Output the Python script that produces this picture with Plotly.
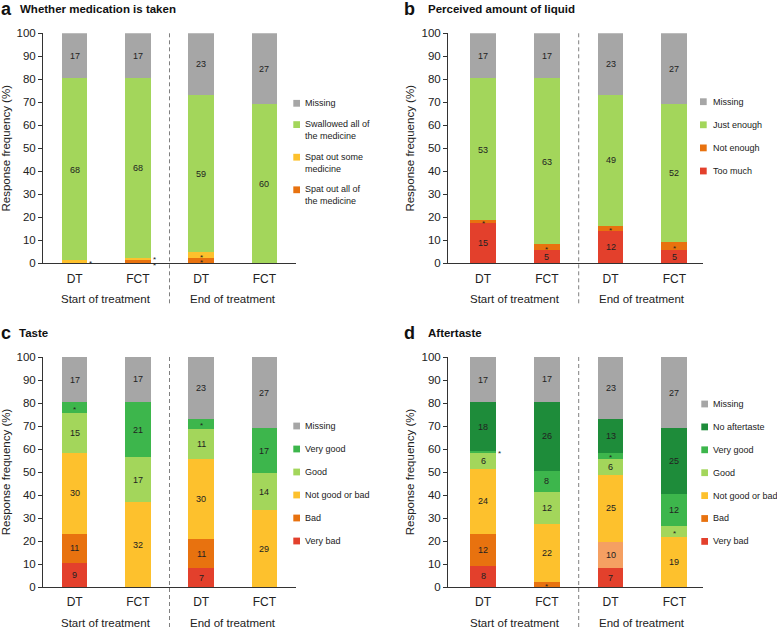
import plotly.graph_objects as go

W, H = 777, 628

# ---------------- data (counts per bar: DT start, FCT start, DT end, FCT end) ----------------
bar_labels = ["DT", "FCT", "DT", "FCT"]
periods = ["Start of treatment", "End of treatment"]

# a) Whether medication is taken
a_spat_all = [0, 1, 2, 0]
a_spat_some = [1, 1, 2, 0]
a_swallowed = [68, 68, 59, 60]
a_missing = [17, 17, 23, 27]

# b) Perceived amount of liquid
b_too_much = [15, 5, 12, 5]
b_not_enough = [1, 2, 2, 3]
b_just_enough = [53, 63, 49, 52]
b_missing = [17, 17, 23, 27]

# c) Taste
c_very_bad = [9, 0, 7, 0]
c_bad = [11, 0, 11, 0]
c_neutral = [30, 32, 30, 29]
c_good = [15, 17, 11, 14]
c_very_good = [4, 21, 4, 17]
c_missing = [17, 17, 23, 27]

# d) Aftertaste
d_very_bad = [8, 0, 7, 0]
d_bad = [12, 2, 10, 0]
d_neutral = [24, 22, 25, 19]
d_good = [6, 12, 6, 4]
d_very_good = [1, 8, 2, 12]
d_none = [18, 26, 13, 25]
d_missing = [17, 17, 23, 27]

# ---------------- styles ----------------
FONT = "Liberation Sans, Arial, Helvetica, sans-serif"
TXT = "#222222"
GRAY = "#a6a6a6"
LGREEN = "#a3d65b"
YELLOW = "#fdc12d"
ORANGE = "#e8720f"
LORANGE = "#f5a062"
RED = "#e3402c"
GREEN = "#3db64c"
DGREEN = "#1e8c3a"

def px_x(x):
    return x / W

def px_y(y):
    return 1 - y / H

panels = [
    dict(key="a", title="Whether medication is taken", ax="",
         xdom=(43, 296), xr=(-0.5, 3.5), ydom=(263.3, 33.3),
         series=[("Spat out all of<br>the medicine", a_spat_all, ORANGE),
                 ("Spat out some<br>medicine", a_spat_some, YELLOW),
                 ("Swallowed all of<br>the medicine", a_swallowed, LGREEN),
                 ("Missing", a_missing, GRAY)],
         title_y=8.5, letter_x=-1, text_x=18.3,
         leg_sq=293.3, leg_tx=302.7, leg_y0=103.3, leg_gap=10.0),
    dict(key="b", title="Perceived amount of liquid", ax="2",
         xdom=(448, 703), xr=(-0.55, 3.45), ydom=(263.3, 33.3),
         series=[("Too much", b_too_much, RED),
                 ("Not enough", b_not_enough, ORANGE),
                 ("Just enough", b_just_enough, LGREEN),
                 ("Missing", b_missing, GRAY)],
         title_y=8.5, letter_x=402, text_x=426.3,
         leg_sq=700, leg_tx=710.7, leg_y0=101.7, leg_gap=11.8),
    dict(key="c", title="Taste", ax="3",
         xdom=(43, 296), xr=(-0.5, 3.5), ydom=(587, 357),
         series=[("Very bad", c_very_bad, RED),
                 ("Bad", c_bad, ORANGE),
                 ("Not good or bad", c_neutral, YELLOW),
                 ("Good", c_good, LGREEN),
                 ("Very good", c_very_good, GREEN),
                 ("Missing", c_missing, GRAY)],
         title_y=332.5, letter_x=-1, text_x=17.3,
         leg_sq=293.3, leg_tx=303.3, leg_y0=426, leg_gap=11.7),
    dict(key="d", title="Aftertaste", ax="4",
         xdom=(448, 703), xr=(-0.55, 3.45), ydom=(587, 357),
         series=[("Very bad", d_very_bad, RED),
                 ("Bad", d_bad, [ORANGE, ORANGE, LORANGE, ORANGE]),
                 ("Not good or bad", d_neutral, YELLOW),
                 ("Good", d_good, LGREEN),
                 ("Very good", d_very_good, GREEN),
                 ("No aftertaste", d_none, DGREEN),
                 ("Missing", d_missing, GRAY)],
         title_y=332.5, letter_x=402, text_x=426,
         leg_sq=701.3, leg_tx=710.7, leg_y0=404, leg_gap=11.6),
]

# small-count markers drawn beside (not inside) the bar: (panel, bar, series) -> extra y shift
outside_marks = {("a", 0, 1): -2, ("a", 1, 0): -4, ("a", 1, 1): 0, ("d", 0, 4): -2}

BAR_W = 0.405
LEG_FONT = 9
LEG_LH = 11.3

fig = go.Figure()
annotations = []
shapes = []
layout_axes = {}

for p in panels:
    ax = p["ax"]
    xref = "x" + ax
    yref = "y" + ax
    series = p["series"]
    nbars = len(bar_labels)
    totals = [sum(s[1][i] for s in series) for i in range(nbars)]
    base = [0.0] * nbars

    for si, (name, counts, color) in enumerate(series):
        pct = [counts[i] / totals[i] * 100 for i in range(nbars)]
        fig.add_trace(go.Bar(
            x=list(range(nbars)), y=pct, width=BAR_W, name=name.replace("<br>", " "),
            marker=dict(color=color, line=dict(width=0)),
            xaxis=xref, yaxis=yref, showlegend=False,
            hovertemplate="%{y:.1f}%<extra>" + name.replace("<br>", " ") + "</extra>",
        ))
        for i in range(nbars):
            c = counts[i]
            if c == 0:
                continue
            mid = base[i] + pct[i] / 2
            if c >= 5:
                annotations.append(dict(
                    x=i, y=mid, xref=xref, yref=yref, text=str(c), showarrow=False,
                    font=dict(family=FONT, size=9, color=TXT), xanchor="center", yanchor="middle"))
            else:
                key = (p["key"], i, si)
                if key in outside_marks:
                    annotations.append(dict(
                        x=i + BAR_W / 2, y=mid, xref=xref, yref=yref, text="*", showarrow=False,
                        font=dict(family=FONT, size=8, color=TXT), xanchor="left", yanchor="middle",
                        xshift=0, yshift=outside_marks[key]))
                else:
                    annotations.append(dict(
                        x=i, y=mid, xref=xref, yref=yref, text="*", showarrow=False,
                        font=dict(family=FONT, size=8, color=TXT), xanchor="center", yanchor="middle",
                        yshift=-2))
        base = [base[i] + pct[i] for i in range(nbars)]

    # axes
    layout_axes["xaxis" + ax] = dict(
        domain=[px_x(p["xdom"][0]), px_x(p["xdom"][1])], range=list(p["xr"]),
        anchor=yref, tickmode="array", tickvals=list(range(nbars)), ticktext=bar_labels,
        showline=True, linecolor="#333333", linewidth=1, ticks="", showgrid=False,
        zeroline=False, tickfont=dict(family=FONT, size=12, color=TXT), ticklabelstandoff=4,
        automargin=False, fixedrange=True)
    layout_axes["yaxis" + ax] = dict(
        domain=[px_y(p["ydom"][0]), px_y(p["ydom"][1])], range=[0, 100], anchor=xref,
        dtick=10, ticks="outside", ticklen=4, tickcolor="#333333", showline=True,
        linecolor="#333333", linewidth=1, showgrid=False, zeroline=False,
        tickfont=dict(family=FONT, size=11.5, color=TXT),
        title=dict(text="Response frequency (%)", font=dict(family=FONT, size=11.5, color=TXT), standoff=4),
        automargin=False, fixedrange=True)

    # period labels under the categories
    axis_px = p["ydom"][0]
    for gi, period in enumerate(periods):
        annotations.append(dict(
            x=gi * 2 + 0.5, y=px_y(axis_px + 35.5), xref=xref, yref="paper", text=period,
            showarrow=False, font=dict(family=FONT, size=11.5, color=TXT),
            xanchor="center", yanchor="middle"))

    # dashed divider between start and end of treatment
    shapes.append(dict(
        type="line", xref=xref, yref="paper", x0=1.5, x1=1.5,
        y0=max(px_y(axis_px + 40), 0), y1=px_y(p["ydom"][1] - 1.5),
        line=dict(color="#808080", width=1, dash="4px,3px")))

    # panel title
    annotations.append(dict(
        x=px_x(p["letter_x"]), y=px_y(p["title_y"]), xref="paper", yref="paper",
        text="<b>" + p["key"] + "</b>", showarrow=False,
        font=dict(family=FONT, size=18, color="#111111"), xanchor="left", yanchor="middle"))
    annotations.append(dict(
        x=px_x(p["text_x"]), y=px_y(p["title_y"] + 0.5), xref="paper", yref="paper",
        text="<b>" + p["title"] + "</b>", showarrow=False,
        font=dict(family=FONT, size=11.5, color="#111111"), xanchor="left", yanchor="middle"))

    # legend (top item = top of stack)
    ly = p["leg_y0"]
    for name, counts, color in reversed(series):
        sw = color if isinstance(color, str) else color[0]
        nlines = name.count("<br>") + 1
        shapes.append(dict(
            type="rect", xref="paper", yref="paper",
            x0=px_x(p["leg_sq"]), x1=px_x(p["leg_sq"] + 6.7),
            y0=px_y(ly + 3.4), y1=px_y(ly - 3.4),
            fillcolor=sw, line=dict(width=0)))
        annotations.append(dict(
            x=px_x(p["leg_tx"]), y=px_y(ly + (nlines - 1) * LEG_LH / 2), xref="paper", yref="paper",
            text=name, showarrow=False, align="left",
            font=dict(family=FONT, size=LEG_FONT, color=TXT), xanchor="left", yanchor="middle"))
        ly += nlines * LEG_LH + p["leg_gap"]

fig.update_layout(
    width=W, height=H, margin=dict(l=0, r=0, t=0, b=0),
    paper_bgcolor="white", plot_bgcolor="white",
    barmode="stack", bargap=0, showlegend=False,
    font=dict(family=FONT, color=TXT),
    annotations=annotations, shapes=shapes,
    **layout_axes,
)

# place the figure flush with the window's top-left corner (no default page margin)
fig.write_html("out.html", config={"displayModeBar": False},
               post_script="document.body.style.margin='0';")
